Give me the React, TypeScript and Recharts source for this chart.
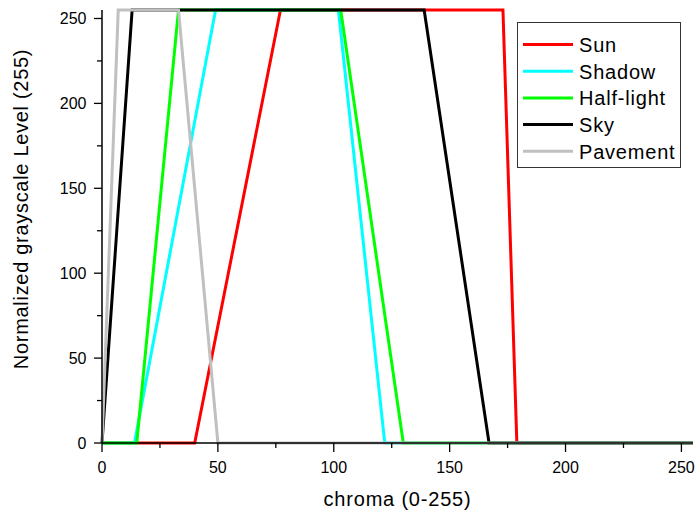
import React from 'react';
import { LineChart, Line, XAxis, YAxis, Legend } from 'recharts';

// Membership functions: chroma (x) vs normalized grayscale level (y)
const sunX = [0, 40, 77, 173, 179, 255];
const sunY = [0, 0, 255, 255, 0, 0];
const shadowX = [0, 14, 49, 102, 122, 255];
const shadowY = [0, 0, 255, 255, 0, 0];
const halfLightX = [0, 15, 33, 103, 130, 255];
const halfLightY = [0, 0, 255, 255, 0, 0];
const skyX = [0, 13, 139, 167, 255];
const skyY = [0, 255, 255, 0, 0];
const pavementX = [0, 7, 33, 50, 255];
const pavementY = [0, 255, 255, 0, 0];

const axisTicks = [0, 25, 50, 75, 100, 125, 150, 175, 200, 225, 250];

const toPoints = (xs: number[], ys: number[]) => xs.map((x, i) => ({ x, y: ys[i] }));

const series = [
  { name: 'Sun', color: '#ff0000', data: toPoints(sunX, sunY) },
  { name: 'Shadow', color: '#00ffff', data: toPoints(shadowX, shadowY) },
  { name: 'Half-light', color: '#00ff00', data: toPoints(halfLightX, halfLightY) },
  { name: 'Sky', color: '#000000', data: toPoints(skyX, skyY) },
  { name: 'Pavement', color: '#c0c0c0', data: toPoints(pavementX, pavementY) },
];

const FONT = 'Arial, "Liberation Sans", sans-serif';

const XTick = (props: any) => {
  const { x, y, payload } = props;
  const major = payload.value % 50 === 0;
  return (
    <g>
      <line x1={x} x2={x} y1={y} y2={y + (major ? 9 : 5)} stroke="#000" strokeWidth={1.3} />
      {major && (
        <text x={x} y={y + 29.5} textAnchor="middle" fontSize={16} fontFamily={FONT} fill="#000">
          {payload.value}
        </text>
      )}
    </g>
  );
};

const YTick = (props: any) => {
  const { x, y, payload } = props;
  const major = payload.value % 50 === 0;
  return (
    <g>
      <line x1={x - (major ? 8 : 5)} x2={x} y1={y} y2={y} stroke="#000" strokeWidth={1.3} />
      {major && (
        <text x={x - 15.5} y={y + 5.7} textAnchor="end" fontSize={16} fontFamily={FONT} fill="#000">
          {payload.value}
        </text>
      )}
    </g>
  );
};

const LegendBox = () => (
  <div
    style={{
      width: 164,
      height: 146,
      boxSizing: 'border-box',
      border: '1px solid #333',
      background: '#fff',
    }}
  >
    <svg width={162} height={144}>
      {series.map((s, i) => {
        const cy = 21.5 + i * 26.7;
        return (
          <g key={s.name}>
            <line x1={5} x2={55} y1={cy} y2={cy} stroke={s.color} strokeWidth={3} />
            <text
              x={61}
              y={cy + 7.5}
              fontSize={20}
              letterSpacing={0.8}
              fontFamily={FONT}
              fill="#000"
            >
              {s.name}
            </text>
          </g>
        );
      })}
    </svg>
  </div>
);

export default function App() {
  return (
    <div style={{ position: 'absolute', left: 0, top: 0, background: '#fff' }}>
      <LineChart width={699} height={518} margin={{ top: 10, right: 6, bottom: 0, left: 42 }}>
        <XAxis
          type="number"
          dataKey="x"
          domain={[0, 255]}
          ticks={axisTicks}
          interval={0}
          height={75}
          tickSize={0}
          tickMargin={0}
          tick={<XTick />}
          axisLine={{ stroke: '#000', strokeWidth: 1.5 }}
          label={(p: any) => {
            const vb = p.viewBox;
            return (
              <text
                x={vb.x + vb.width / 2}
                y={506}
                textAnchor="middle"
                fontSize={20}
                letterSpacing={0.8}
                fontFamily={FONT}
                fill="#000"
              >
                chroma (0-255)
              </text>
            );
          }}
        />
        <YAxis
          type="number"
          dataKey="y"
          domain={[0, 255]}
          ticks={axisTicks}
          interval={0}
          width={60}
          tickSize={0}
          tickMargin={0}
          tick={<YTick />}
          axisLine={{ stroke: '#000', strokeWidth: 1.5 }}
          label={() => (
            <text
              x={28}
              y={209}
              transform="rotate(-90, 28, 209)"
              textAnchor="middle"
              fontSize={20}
              letterSpacing={0.7}
              fontFamily={FONT}
              fill="#000"
            >
              Normalized grayscale Level (255)
            </text>
          )}
        />
        <Legend
          layout="vertical"
          align="center"
          verticalAlign="middle"
          wrapperStyle={{ left: 517, top: 22, width: 164, height: 146 }}
          content={() => <LegendBox />}
        />
        {series.map((s) => (
          <Line
            key={s.name}
            data={s.data}
            dataKey="y"
            name={s.name}
            type="linear"
            stroke={s.color}
            strokeWidth={3}
            dot={false}
            activeDot={false}
            isAnimationActive={false}
          />
        ))}
      </LineChart>
    </div>
  );
}
